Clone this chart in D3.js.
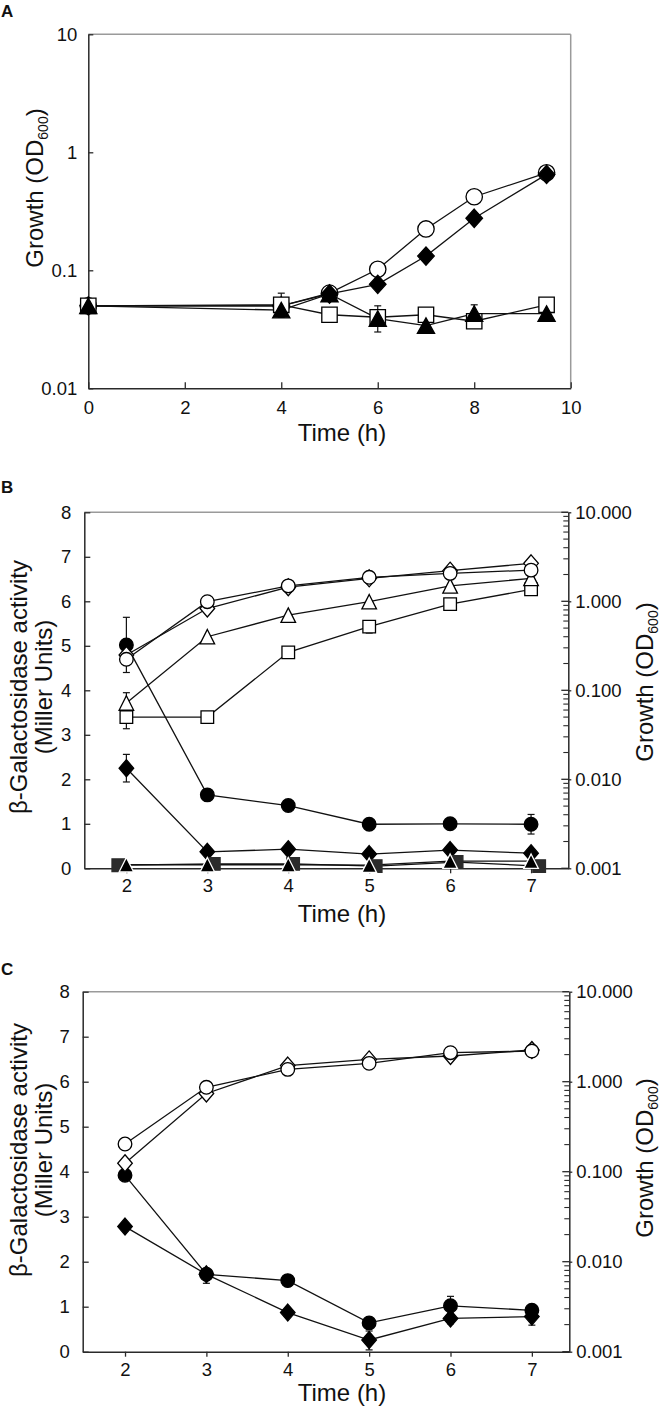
<!DOCTYPE html>
<html>
<head>
<meta charset="utf-8">
<script src="https://cdn.jsdelivr.net/npm/d3@7"></script>
<style>
  html, body { margin: 0; padding: 0; background: #fff; }
  svg text { font-family: "Liberation Sans", Arial, Helvetica, sans-serif; fill: #111; }
</style>
</head>
<body>
<svg id="chart" width="661" height="1407" xmlns="http://www.w3.org/2000/svg"></svg>
<script>
// ================= DATA =================
// Panel A : growth (OD600), log axis
const timeA = [0, 4, 5, 6, 7, 8, 9.5];
const aOpenCircle    = [0.050, 0.050, 0.064, 0.102, 0.224, 0.420, 0.670];
const aFilledDiamond = [0.050, 0.050, 0.063, 0.076, 0.132, 0.276, 0.650];
const aOpenSquare    = [0.050, 0.051, 0.042, 0.040, 0.042, 0.037, 0.051];
const aFilledTriangle= [0.050, 0.046, 0.063, 0.039, 0.034, 0.043, 0.043];
const aTriangleErrLow  = [null, 0.040, null, 0.030, null, 0.037, null];
const aTriangleErrHigh = [null, 0.064, null, 0.050, null, 0.051, null];
const ticksAx = [0, 2, 4, 6, 8, 10];
const ticksAy = [0.01, 0.1, 1, 10];

// Panel B : filled = beta-galactosidase (left, linear); open = growth (right, log)
const timeB = [2, 3, 4, 5, 6, 7];
const bFilledCircle      = [5.02, 1.65, 1.41, 0.99, 1.00, 0.99];
const bFilledCircleErr   = [0.62, 0, 0, 0, 0, 0.22];
const bFilledDiamond     = [2.25, 0.37, 0.43, 0.32, 0.41, 0.34];
const bFilledDiamondErr  = [0.31, 0, 0, 0, 0, 0];
const bFilledSquareTime  = [1.9, 3.08, 4.06, 5.08, 6.08, 7.1];
const bFilledSquare      = [0.07, 0.10, 0.10, 0.05, 0.14, 0.05];
const bFilledTriangle    = [0.08, 0.08, 0.08, 0.07, 0.16, 0.16];
const bOpenCircle   = [0.223, 0.99, 1.49, 1.86, 2.06, 2.24];
const bOpenDiamond  = [0.249, 0.83, 1.44, 1.81, 2.21, 2.67];
const bOpenTriangle = [0.072, 0.40, 0.70, 0.99, 1.49, 1.81];
const bOpenTriangleErrLow  = [0.062, null, null, null, null, null];
const bOpenTriangleErrHigh = [0.094, null, null, null, null, null];
const bOpenSquare   = [0.050, 0.050, 0.267, 0.52, 0.93, 1.36];
const bOpenSquareErrLow  = [0.037, null, 0.239, 0.44, null, null];
const bOpenSquareErrHigh = [0.052, null, 0.280, 0.54, null, null];

// Panel C
const timeC = [2, 3, 4, 5, 6, 7];
const cFilledCircle     = [3.92, 1.72, 1.58, 0.64, 1.02, 0.92];
const cFilledCircleErrLow  = [null, 1.52, 1.45, null, 0.95, null];
const cFilledCircleErrHigh = [null, 1.80, 1.65, null, 1.23, null];
const cFilledDiamond    = [2.78, 1.72, 0.87, 0.26, 0.74, 0.78];
const cFilledDiamondErrLow  = [null, null, null, 0.04, 0.62, 0.59];
const cFilledDiamondErrHigh = [null, null, null, 0.46, 0.86, 0.97];
const cOpenCircle  = [0.203, 0.867, 1.37, 1.60, 2.10, 2.19];
const cOpenDiamond = [0.124, 0.74, 1.51, 1.77, 1.93, 2.25];

const ticksBCx = [2, 3, 4, 5, 6, 7];
const ticksBCleft = [0, 1, 2, 3, 4, 5, 6, 7, 8];
const ticksBCright = [0.001, 0.01, 0.1, 1, 10];

// ================= DRAWING =================
const svg = d3.select("#chart");
const TICK_FS = 18.5, TITLE_FS = 24;
const AXIS_COLOR = "#2a2a2a", FRAME_COLOR = "#9a9a9a", LINE_COLOR = "#111";

function markerPath(kind, s) {
  const p = d3.path();
  if (kind === "circle") { p.moveTo(s.r, 0); p.arc(0, 0, s.r, 0, 2 * Math.PI); }
  else if (kind === "diamond") { p.moveTo(0, -s.dh); p.lineTo(s.dw, 0); p.lineTo(0, s.dh); p.lineTo(-s.dw, 0); p.closePath(); }
  else if (kind === "square") { p.rect(-s.sq, -s.sq, 2 * s.sq, 2 * s.sq); }
  else if (kind === "triangle") { p.moveTo(0, -s.th / 2); p.lineTo(s.tw, s.th / 2); p.lineTo(-s.tw, s.th / 2); p.closePath(); }
  return p.toString();
}

function toPoints(times, values) { return times.map((t, i) => ({ t, v: values[i], i })); }

function drawLine(g, x, y, pts) {
  g.append("path").datum(pts)
    .attr("d", d3.line().x(d => x(d.t)).y(d => y(d.v)))
    .attr("fill", "none").attr("stroke", LINE_COLOR).attr("stroke-width", 1.3);
}

function drawErrors(g, x, y, times, lo, hi) {
  times.forEach((t, i) => {
    if (lo[i] == null || hi[i] == null) return;
    const cx = x(t), y1 = y(lo[i]), y2 = y(hi[i]);
    g.append("line").attr("x1", cx).attr("x2", cx).attr("y1", y1).attr("y2", y2)
      .attr("stroke", LINE_COLOR).attr("stroke-width", 1.2);
    [y1, y2].forEach(yy => g.append("line").attr("x1", cx - 3.5).attr("x2", cx + 3.5)
      .attr("y1", yy).attr("y2", yy).attr("stroke", LINE_COLOR).attr("stroke-width", 1.2));
  });
}

function drawMarkers(g, x, y, pts, kind, fill, sizes, stroke) {
  g.selectAll(null).data(pts).enter().append("path")
    .attr("transform", d => `translate(${x(d.t)},${y(d.v)})`)
    .attr("d", markerPath(kind, sizes))
    .attr("fill", fill).attr("stroke", stroke || "#000").attr("stroke-width", 1.3);
}

function styleAxis(sel) {
  sel.select(".domain").attr("stroke", AXIS_COLOR).attr("stroke-width", 1.5);
  sel.selectAll(".tick line").attr("stroke", AXIS_COLOR).attr("stroke-width", 1.3);
  sel.selectAll(".tick text").attr("font-size", TICK_FS).attr("fill", "#111")
    .attr("font-family", '"Liberation Sans", Arial, sans-serif');
}

function growthTitle(g, cx, cy) {
  const t = g.append("text")
    .attr("transform", `translate(${cx},${cy}) rotate(-90)`)
    .attr("text-anchor", "middle").attr("dy", "0.35em")
    .attr("font-size", TITLE_FS);
  t.append("tspan").text("Growth (OD");
  t.append("tspan").attr("font-size", 14).attr("dy", 5).text("600");
  t.append("tspan").attr("dy", -5).text(")");
}

function timeTitle(g, cx, baseline) {
  g.append("text").attr("x", cx).attr("y", baseline).attr("text-anchor", "middle")
    .attr("font-size", TITLE_FS).text("Time (h)");
}

function panelLetter(g, letter, baseline) {
  g.append("text").attr("x", 1).attr("y", baseline).attr("font-size", 17)
    .attr("font-weight", "bold").text(letter);
}

// ---------- Panel A ----------
(function () {
  const g = svg.append("g");
  const L = 88.3, R = 570.7, T = 34.3, B = 388.3;
  const x = d3.scaleLinear().domain([0, 10]).range([L, R]);
  const y = d3.scaleLog().domain([0.01, 10]).range([B, T]);

  g.append("line").attr("x1", L).attr("x2", R).attr("y1", T).attr("y2", T).attr("stroke", FRAME_COLOR).attr("stroke-width", 1.5);
  g.append("line").attr("x1", R).attr("x2", R).attr("y1", T).attr("y2", B).attr("stroke", FRAME_COLOR).attr("stroke-width", 1.5);

  g.append("g").attr("transform", `translate(${L},0)`)
    .call(d3.axisLeft(y).tickValues(ticksAy).tickFormat(d3.format("~g")).tickSize(-5).tickSizeOuter(0).tickPadding(11))
    .call(styleAxis);
  g.append("g").attr("transform", `translate(0,${B})`)
    .call(d3.axisBottom(x).tickValues(ticksAx).tickFormat(d3.format("d")).tickSize(-6).tickSizeOuter(0).tickPadding(13))
    .call(styleAxis);

  const sz = { r: 8.2, dw: 8.3, dh: 9.2, sq: 7.7, tw: 8.6, th: 15.5 };
  const circ = toPoints(timeA, aOpenCircle), dia = toPoints(timeA, aFilledDiamond);
  const sqr = toPoints(timeA, aOpenSquare), tri = toPoints(timeA, aFilledTriangle);
  [circ, dia, sqr, tri].forEach(p => drawLine(g, x, y, p));
  drawErrors(g, x, y, timeA, aTriangleErrLow, aTriangleErrHigh);
  drawMarkers(g, x, y, circ, "circle", "#fff", sz);
  drawMarkers(g, x, y, dia, "diamond", "#000", sz);
  drawMarkers(g, x, y, sqr, "square", "#fff", sz);
  drawMarkers(g, x, y, tri, "triangle", "#000", sz);

  growthTitle(g, 35, 188);
  timeTitle(g, 342, 441);
  panelLetter(g, "A", 17);
})();

// ---------- Panels B and C shared frame ----------
function bcFrame(g, L, R, T, B) {
  const x = d3.scaleLinear().domain([1.48, 7.46]).range([L, R]);
  const yL = d3.scaleLinear().domain([0, 8]).range([B, T]);
  const yR = d3.scaleLog().domain([0.001, 10]).range([B, T]);

  g.append("line").attr("x1", L).attr("x2", R).attr("y1", T).attr("y2", T).attr("stroke", FRAME_COLOR).attr("stroke-width", 1.5);

  g.append("g").attr("transform", `translate(${L},0)`)
    .call(d3.axisLeft(yL).tickValues(ticksBCleft).tickFormat(d3.format("d")).tickSize(-6).tickSizeOuter(0).tickPadding(13))
    .call(styleAxis);
  g.append("g").attr("transform", `translate(0,${B})`)
    .call(d3.axisBottom(x).tickValues(ticksBCx).tickFormat(d3.format("d")).tickSize(5).tickSizeOuter(0).tickPadding(6))
    .call(styleAxis);
  const ra = g.append("g").attr("transform", `translate(${R},0)`)
    .call(d3.axisRight(yR).tickValues(ticksBCright).tickFormat(d3.format(".3f")).tickSize(3).tickSizeOuter(0).tickPadding(4))
    .call(styleAxis);
  // inward major + minor ticks on the log axis
  const minors = [];
  [0.001, 0.01, 0.1, 1].forEach(d => { for (let k = 2; k <= 9; k++) minors.push(k * d); });
  ra.selectAll(null).data(minors).enter().append("line")
    .attr("x1", -5).attr("x2", 0).attr("y1", d => yR(d)).attr("y2", d => yR(d))
    .attr("stroke", AXIS_COLOR).attr("stroke-width", 1.1);
  ra.selectAll(null).data(ticksBCright).enter().append("line")
    .attr("x1", -7).attr("x2", 0).attr("y1", d => yR(d)).attr("y2", d => yR(d))
    .attr("stroke", AXIS_COLOR).attr("stroke-width", 1.3);
  return { x, yL, yR };
}

function betaTitle(g, cy) {
  g.append("text").attr("transform", `translate(19,${cy}) rotate(-90)`)
    .attr("text-anchor", "middle").attr("dy", "0.35em").attr("font-size", TITLE_FS)
    .text("β-Galactosidase activity");
  g.append("text").attr("transform", `translate(44,${cy}) rotate(-90)`)
    .attr("text-anchor", "middle").attr("dy", "0.35em").attr("font-size", TITLE_FS)
    .text("(Miller Units)");
}

const szBC = { r: 6.8, dw: 7.3, dh: 8.5, sq: 6.3, tw: 7.3, th: 14.5 };

// ---------- Panel B ----------
(function () {
  const g = svg.append("g");
  const { x, yL, yR } = bcFrame(g, 84.3, 568.3, 512.3, 868.3);

  const fC = toPoints(timeB, bFilledCircle), fD = toPoints(timeB, bFilledDiamond);
  const fS = toPoints(bFilledSquareTime, bFilledSquare), fT = toPoints(timeB, bFilledTriangle);
  const oC = toPoints(timeB, bOpenCircle), oD = toPoints(timeB, bOpenDiamond);
  const oT = toPoints(timeB, bOpenTriangle), oS = toPoints(timeB, bOpenSquare);

  [fC, fD, fS, fT].forEach(p => drawLine(g, x, yL, p));
  [oS, oT, oD, oC].forEach(p => drawLine(g, x, yR, p));

  drawErrors(g, x, yL, timeB, bFilledCircle.map((v, i) => bFilledCircleErr[i] ? v - bFilledCircleErr[i] : null),
    bFilledCircle.map((v, i) => bFilledCircleErr[i] ? v + bFilledCircleErr[i] : null));
  drawErrors(g, x, yL, timeB, bFilledDiamond.map((v, i) => bFilledDiamondErr[i] ? v - bFilledDiamondErr[i] : null),
    bFilledDiamond.map((v, i) => bFilledDiamondErr[i] ? v + bFilledDiamondErr[i] : null));
  drawErrors(g, x, yR, timeB, bOpenTriangleErrLow, bOpenTriangleErrHigh);
  drawErrors(g, x, yR, timeB, bOpenSquareErrLow, bOpenSquareErrHigh);

  drawMarkers(g, x, yL, fC, "circle", "#000", szBC);
  drawMarkers(g, x, yL, fD, "diamond", "#000", szBC);
  drawMarkers(g, x, yL, fS, "square", "#2b2b2b", szBC, "#2b2b2b");
  drawMarkers(g, x, yL, fT, "triangle", "#000", szBC, "#fff");
  drawMarkers(g, x, yR, oS, "square", "#fff", szBC);
  drawMarkers(g, x, yR, oT, "triangle", "#fff", szBC);
  drawMarkers(g, x, yR, oD, "diamond", "#fff", szBC);
  drawMarkers(g, x, yR, oC, "circle", "#fff", szBC);

  betaTitle(g, 687);
  growthTitle(g, 645, 682);
  timeTitle(g, 342, 922);
  panelLetter(g, "B", 493);
})();

// ---------- Panel C ----------
(function () {
  const g = svg.append("g");
  const { x, yL, yR } = bcFrame(g, 82.7, 569.3, 991.7, 1351.7);

  const fC = toPoints(timeC, cFilledCircle), fD = toPoints(timeC, cFilledDiamond);
  const oC = toPoints(timeC, cOpenCircle), oD = toPoints(timeC, cOpenDiamond);

  [fC, fD].forEach(p => drawLine(g, x, yL, p));
  [oD, oC].forEach(p => drawLine(g, x, yR, p));

  drawErrors(g, x, yL, timeC, cFilledCircleErrLow, cFilledCircleErrHigh);
  drawErrors(g, x, yL, timeC, cFilledDiamondErrLow, cFilledDiamondErrHigh);

  drawMarkers(g, x, yL, fD, "diamond", "#000", szBC);
  drawMarkers(g, x, yL, fC, "circle", "#000", szBC);
  drawMarkers(g, x, yR, oD, "diamond", "#fff", szBC);
  drawMarkers(g, x, yR, oC, "circle", "#fff", szBC);

  betaTitle(g, 1150);
  growthTitle(g, 645, 1158);
  timeTitle(g, 342, 1401);
  panelLetter(g, "C", 975);
})();
</script>
</body>
</html>
